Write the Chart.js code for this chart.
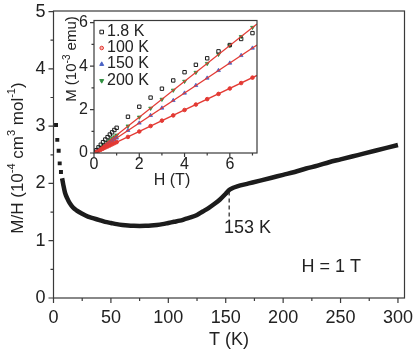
<!DOCTYPE html>
<html>
<head>
<meta charset="utf-8">
<script src="https://cdn.jsdelivr.net/npm/chart.js@4.4.1/dist/chart.umd.min.js"></script>
<style>
  html, body { margin: 0; padding: 0; background: #fff; }
  #wrap { position: relative; width: 415px; height: 353px; }
  #main { position: absolute; left: 0; top: 0; }
  #inset { position: absolute; left: 50px; top: 0; }
</style>
</head>
<body>
<div id="wrap">
  <canvas id="main" width="415" height="353" style="width:415px;height:353px"></canvas>
  <canvas id="inset" width="215" height="200" style="width:215px;height:200px"></canvas>
</div>
<script>
const FONT = "'Liberation Sans', Arial, sans-serif";
const INK = "#222";

// main panel: M/H vs T at H = 1 T
const lowT = [2.2, 3.3, 4.5, 5.4, 6.5];
const lowChi = [3.02, 2.76, 2.57, 2.35, 2.2];
const curveT = [7.5, 8.5, 10, 12, 14, 17, 20, 25, 30, 35, 40, 45, 50, 55, 60, 65, 70, 75, 80, 85,
  90, 95, 100, 105, 110, 115, 120, 125, 130, 135, 140, 145, 150, 153, 156, 160, 170, 180, 190,
  200, 210, 220, 230, 240, 250, 260, 270, 280, 290, 300];
const curveChi = [2.09, 1.98, 1.84, 1.74, 1.66, 1.58, 1.53, 1.47, 1.42, 1.39, 1.36, 1.33, 1.31,
  1.29, 1.275, 1.265, 1.26, 1.258, 1.26, 1.265, 1.275, 1.29, 1.31, 1.33, 1.35, 1.38, 1.41, 1.45,
  1.51, 1.57, 1.64, 1.72, 1.82, 1.885, 1.92, 1.95, 2.0, 2.05, 2.1, 2.15, 2.2, 2.26, 2.31, 2.37,
  2.42, 2.47, 2.52, 2.57, 2.62, 2.67];
const xMajor = [0, 50, 100, 150, 200, 250, 300];
const xLabels = ["0", "50", "100", "150", "200", "250", "300"];
const xMinor = [25, 75, 125, 175, 225, 275];
const yMajor = [0, 1, 2, 3, 4, 5];
const yLabels = ["0", "1", "2", "3", "4", "5"];
const yMinor = [0.5, 1.5, 2.5, 3.5, 4.5];
const transitionT = 153;
const transitionSpan = [1.36, 1.86];

// inset: M vs H
const fieldH = [0.1, 0.2, 0.3, 0.4, 0.5, 0.6, 0.7, 0.8, 0.9, 1.0, 1.5, 2, 2.5, 3, 3.5, 4, 4.5, 5, 5.5, 6, 6.5, 7];
const m18K = [0.13, 0.26, 0.38, 0.50, 0.62, 0.73, 0.85, 0.95, 1.06, 1.16, 1.67, 2.13, 2.55, 2.96, 3.34, 3.72, 4.06, 4.36, 4.68, 4.97, 5.25, 5.52];
const m100K = [0.05, 0.10, 0.15, 0.20, 0.25, 0.30, 0.35, 0.40, 0.45, 0.50, 0.74, 0.99, 1.24, 1.49, 1.73, 1.98, 2.23, 2.48, 2.72, 2.97, 3.22, 3.47];
const m150K = [0.07, 0.14, 0.21, 0.28, 0.35, 0.41, 0.48, 0.55, 0.62, 0.69, 1.04, 1.38, 1.73, 2.07, 2.42, 2.76, 3.11, 3.45, 3.80, 4.14, 4.49, 4.83];
const m200K = [0.08, 0.17, 0.25, 0.33, 0.41, 0.50, 0.58, 0.66, 0.74, 0.82, 1.24, 1.65, 2.06, 2.47, 2.89, 3.30, 3.71, 4.12, 4.54, 4.95, 5.36, 5.78];
const fitH = [0, 7.2];
const fit100K = [0, 3.57];
const fit150K = [0, 4.97];
const fit200K = [0, 5.94];
const insetMajor = [0, 2, 4, 6];
const insetLabels = ["0", "2", "4", "6"];
const insetXMinor = [1, 3, 5, 7];
const insetYMinor = [1, 3, 5];
const legendNames = ["1.8 K", "100 K", "150 K", "200 K"];

const BLACK = "#1c1c1c", RED = "#e33a34", BLUE = "#4a62c4", GREEN = "#2f8f3f";

function pts(xs, ys) {
  return xs.map((x, i) => ({ x: x, y: ys[i] }));
}

// keep the plot box where it is, whatever the tick labels want
function noScalePad(s) {
  s.paddingLeft = 0; s.paddingRight = 0; s.paddingTop = 0; s.paddingBottom = 0;
}

// draw a line of text made of pieces [text, size, raise], centred on (x, y)
function drawRich(ctx, parts, x, y, rot) {
  ctx.save();
  ctx.translate(x, y);
  ctx.rotate(rot);
  ctx.fillStyle = INK;
  ctx.textBaseline = "middle";
  ctx.textAlign = "left";
  let w = 0;
  parts.forEach(p => { ctx.font = p[1] + "px " + FONT; w += ctx.measureText(p[0]).width; });
  let cx = -w / 2;
  parts.forEach(p => {
    ctx.font = p[1] + "px " + FONT;
    ctx.fillText(p[0], cx, -p[2]);
    cx += ctx.measureText(p[0]).width;
  });
  ctx.restore();
}

function drawFrameAndTicks(chart, xs, ys, len) {
  const ctx = chart.ctx, a = chart.chartArea;
  const sx = chart.scales.x, sy = chart.scales.y;
  ctx.save();
  ctx.strokeStyle = "#3a3a3a";
  ctx.lineWidth = 1.2;
  ctx.strokeRect(a.left, a.top, a.right - a.left, a.bottom - a.top);
  ctx.beginPath();
  xs.major.forEach(v => { const p = sx.getPixelForValue(v); ctx.moveTo(p, a.bottom); ctx.lineTo(p, a.bottom + len[0]); });
  xs.minor.forEach(v => { const p = sx.getPixelForValue(v); ctx.moveTo(p, a.bottom); ctx.lineTo(p, a.bottom + len[1]); });
  ys.major.forEach(v => { const p = sy.getPixelForValue(v); ctx.moveTo(a.left, p); ctx.lineTo(a.left - len[0], p); });
  ys.minor.forEach(v => { const p = sy.getPixelForValue(v); ctx.moveTo(a.left, p); ctx.lineTo(a.left - len[1], p); });
  ctx.stroke();
  ctx.restore();
}

const mainDecor = {
  id: "mainDecor",
  afterDraw(chart) {
    const ctx = chart.ctx, a = chart.chartArea;
    const sx = chart.scales.x, sy = chart.scales.y;
    drawFrameAndTicks(chart, { major: xMajor, minor: xMinor }, { major: yMajor, minor: yMinor }, [5, 3]);

    // transition marker
    ctx.save();
    ctx.strokeStyle = INK;
    ctx.lineWidth = 1.2;
    ctx.setLineDash([4, 3]);
    ctx.beginPath();
    ctx.moveTo(sx.getPixelForValue(transitionT), sy.getPixelForValue(transitionSpan[1]));
    ctx.lineTo(sx.getPixelForValue(transitionT), sy.getPixelForValue(transitionSpan[0]));
    ctx.stroke();
    ctx.restore();

    ctx.save();
    ctx.fillStyle = INK;
    ctx.font = "18px " + FONT;
    ctx.textBaseline = "middle";
    ctx.textAlign = "left";
    ctx.fillText("153 K", sx.getPixelForValue(148.5), sy.getPixelForValue(1.22));
    ctx.fillText("H = 1 T", sx.getPixelForValue(216), sy.getPixelForValue(0.545));
    ctx.textAlign = "center";
    ctx.fillText("T (K)", (a.left + a.right) / 2, 340);
    ctx.restore();

    drawRich(ctx, [["M/H (10", 17, 0], ["-4", 11, 6], [" cm", 17, 0], ["3", 11, 6],
      [" mol", 17, 0], ["-1", 11, 6], [")", 17, 0]], 18, 158, -Math.PI / 2);
  }
};

new Chart(document.getElementById("main"), {
  type: "scatter",
  data: {
    datasets: [
      {
        data: pts(lowT, lowChi),
        pointStyle: "rect",
        pointRadius: 2.8,
        backgroundColor: BLACK,
        borderColor: BLACK,
        borderWidth: 0,
        showLine: false
      },
      {
        data: pts(curveT, curveChi),
        showLine: true,
        borderColor: BLACK,
        borderWidth: 4.5,
        pointRadius: 0,
        cubicInterpolationMode: "monotone"
      }
    ]
  },
  options: {
    responsive: false,
    animation: false,
    events: [],
    layout: { padding: { left: 0, top: 11, right: 10.5, bottom: 0 } },
    plugins: { legend: { display: false }, tooltip: { enabled: false } },
    scales: {
      x: {
        type: "linear",
        min: 0,
        max: 305.7,
        grid: { display: false, drawTicks: false },
        border: { display: false },
        afterBuildTicks: s => { s.ticks = xMajor.map(v => ({ value: v })); },
        afterFit: s => { s.height = 55; noScalePad(s); },
        ticks: {
          padding: 9,
          color: INK,
          font: { size: 18, family: FONT },
          maxRotation: 0,
          autoSkip: false,
          callback: (v, i) => xLabels[i]
        }
      },
      y: {
        type: "linear",
        min: 0,
        max: 5.01,
        grid: { display: false, drawTicks: false },
        border: { display: false },
        afterBuildTicks: s => { s.ticks = yMajor.map(v => ({ value: v })); },
        afterFit: s => { s.width = 53.5; noScalePad(s); },
        ticks: {
          padding: 8,
          color: INK,
          font: { size: 18, family: FONT },
          autoSkip: false,
          callback: (v, i) => yLabels[i]
        }
      }
    }
  },
  plugins: [mainDecor]
});

function marker(ctx, kind, x, y, r, fill, stroke) {
  ctx.beginPath();
  if (kind === "square") {
    ctx.rect(x - r, y - r, 2 * r, 2 * r);
  } else if (kind === "circle") {
    ctx.arc(x, y, r, 0, Math.PI * 2);
  } else if (kind === "up") {
    ctx.moveTo(x, y - r * 1.2); ctx.lineTo(x + r * 1.1, y + r * 0.8); ctx.lineTo(x - r * 1.1, y + r * 0.8); ctx.closePath();
  } else {
    ctx.moveTo(x, y + r * 1.2); ctx.lineTo(x + r * 1.1, y - r * 0.8); ctx.lineTo(x - r * 1.1, y - r * 0.8); ctx.closePath();
  }
  ctx.fillStyle = fill;
  ctx.fill();
  ctx.strokeStyle = stroke;
  ctx.lineWidth = 1;
  ctx.stroke();
}

const insetDecor = {
  id: "insetDecor",
  afterDraw(chart) {
    const ctx = chart.ctx;
    drawFrameAndTicks(chart, { major: insetMajor, minor: insetXMinor }, { major: insetMajor, minor: insetYMinor }, [4, 2.5]);

    // legend
    const kinds = ["square", "circle", "up", "down"];
    const fills = ["#fff", "#f7b5b0", BLUE, GREEN];
    const strokes = [BLACK, RED, BLUE, GREEN];
    const rows = [32, 48, 64, 81];
    ctx.save();
    legendNames.forEach((name, i) => {
      marker(ctx, kinds[i], 51.7, rows[i], 1.8, fills[i], strokes[i]);
      ctx.fillStyle = INK;
      ctx.font = "16px " + FONT;
      ctx.textBaseline = "middle";
      ctx.textAlign = "left";
      ctx.fillText(name, 57, rows[i]);
    });
    ctx.font = "16px " + FONT;
    ctx.textAlign = "center";
    ctx.fillText("H (T)", 122, 181);
    ctx.restore();

    drawRich(ctx, [["M (10", 15, 0], ["-3", 10, 5], [" emu)", 15, 0]], 22, 59, -Math.PI / 2);
  }
};

const fitStyle = { showLine: true, borderColor: RED, borderWidth: 1.3, pointRadius: 0 };

new Chart(document.getElementById("inset"), {
  type: "scatter",
  data: {
    datasets: [
      Object.assign({ data: pts(fitH, fit100K) }, fitStyle),
      Object.assign({ data: pts(fitH, fit150K) }, fitStyle),
      Object.assign({ data: pts(fitH, fit200K) }, fitStyle),
      {
        data: pts(fieldH, m18K), pointStyle: "rect", pointRadius: 2.4,
        backgroundColor: "rgba(255,255,255,0)", borderColor: BLACK, borderWidth: 1
      },
      {
        data: pts(fieldH, m100K), pointStyle: "circle", pointRadius: 1.8,
        backgroundColor: RED, borderColor: RED, borderWidth: 1
      },
      {
        data: pts(fieldH, m150K), pointStyle: "triangle", pointRadius: 2.2,
        backgroundColor: BLUE, borderColor: BLUE, borderWidth: 0.8
      },
      {
        data: pts(fieldH, m200K), pointStyle: "triangle", rotation: 180, pointRadius: 2.2,
        backgroundColor: GREEN, borderColor: GREEN, borderWidth: 0.8
      }
    ]
  },
  options: {
    responsive: false,
    animation: false,
    events: [],
    layout: { padding: { left: 0, top: 20.5, right: 8, bottom: 0 } },
    plugins: { legend: { display: false }, tooltip: { enabled: false } },
    scales: {
      x: {
        type: "linear",
        min: 0,
        max: 7.2,
        grid: { display: false, drawTicks: false },
        border: { display: false },
        afterBuildTicks: s => { s.ticks = insetMajor.map(v => ({ value: v })); },
        afterFit: s => { s.height = 47; noScalePad(s); },
        ticks: {
          padding: 2,
          color: INK,
          font: { size: 16, family: FONT },
          maxRotation: 0,
          autoSkip: false,
          callback: (v, i) => insetLabels[i]
        }
      },
      y: {
        type: "linear",
        min: 0,
        max: 6.1,
        grid: { display: false, drawTicks: false },
        border: { display: false },
        afterBuildTicks: s => { s.ticks = insetMajor.map(v => ({ value: v })); },
        afterFit: s => { s.width = 44; noScalePad(s); },
        ticks: {
          padding: 6,
          color: INK,
          font: { size: 16, family: FONT },
          autoSkip: false,
          callback: (v, i) => insetLabels[i]
        }
      }
    }
  },
  plugins: [insetDecor]
});
</script>
</body>
</html>
